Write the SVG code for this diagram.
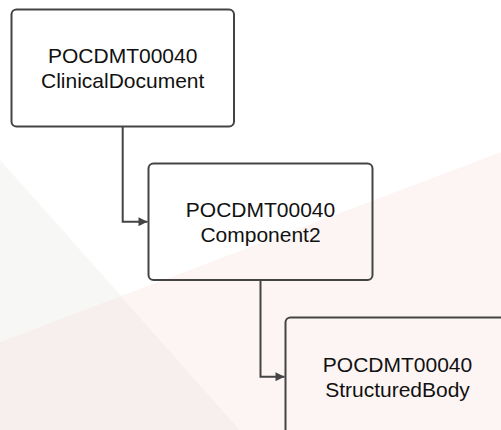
<svg xmlns="http://www.w3.org/2000/svg" width="501" height="430" viewBox="0 0 501 430">
  <style>
    .node rect { fill: none; stroke: #444444; stroke-width: 2; }
    .node text { font-family: "Liberation Sans", Arial, sans-serif; font-size: 21px; fill: #111; text-anchor: middle; }
    .edge { fill: none; stroke: #444444; stroke-width: 2; }
  </style>
  <defs>
    <marker id="arrow" viewBox="0 0 10 10" refX="10" refY="5" markerWidth="10" markerHeight="9" markerUnits="userSpaceOnUse" orient="auto">
      <path d="M0,0 L10,5 L0,10 z" fill="#444444"/>
    </marker>
  </defs>

  <!-- background wash -->
  <rect x="0" y="0" width="501" height="430" fill="#ffffff"/>
  <g id="background">
    <polygon points="0,160 121,296 0,342" fill="#f7f7f6"/>
    <polygon points="0,342 121,296 240,430 0,430" fill="#f6efed"/>
    <polygon points="121,296 501,152 501,430 240,430" fill="#fdf5f4"/>
  </g>

  <g id="connectors">
    <path class="edge" d="M122.7,127 V221.7 H147.5" marker-end="url(#arrow)"/>
    <path class="edge" d="M260.5,280 V376.7 H284.5" marker-end="url(#arrow)"/>
  </g>

  <g id="clinical-document" class="node">
    <rect x="11.5" y="9.5" width="222.5" height="117" rx="5"/>
    <text x="122.7" y="63">POCDMT00040</text>
    <text x="122.7" y="87.5">ClinicalDocument</text>
  </g>

  <g id="component2" class="node">
    <rect x="148.5" y="163.5" width="224" height="116.5" rx="5"/>
    <text x="260.5" y="217">POCDMT00040</text>
    <text x="260.5" y="241.5">Component2</text>
  </g>

  <g id="structured-body" class="node">
    <rect x="285.5" y="317.5" width="224" height="118" rx="5"/>
    <text x="397.5" y="372">POCDMT00040</text>
    <text x="397.5" y="396.5">StructuredBody</text>
  </g>
</svg>
